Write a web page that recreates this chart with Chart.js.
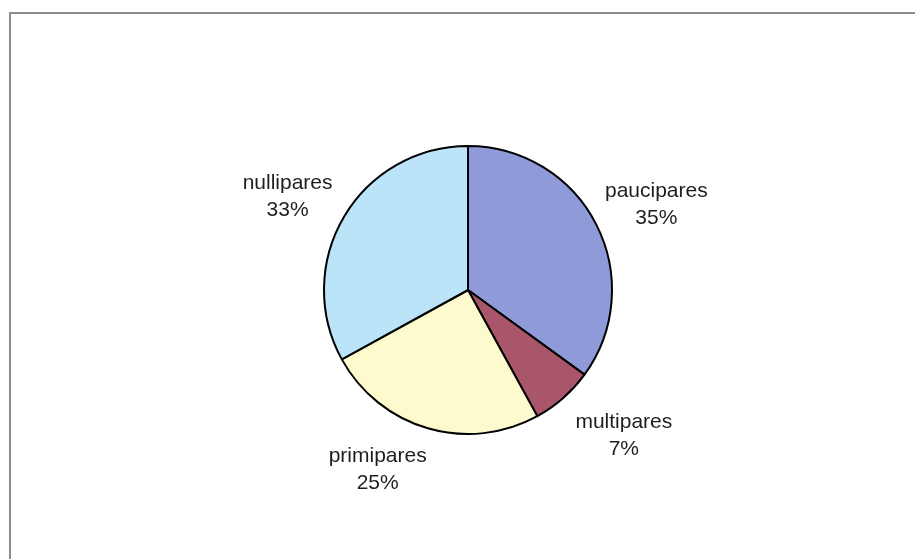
<!DOCTYPE html>
<html>
<head>
<meta charset="utf-8">
<script src="https://cdn.jsdelivr.net/npm/chart.js@4/dist/chart.umd.min.js"></script>
<style>
  html, body { margin: 0; padding: 0; background: #ffffff; }
  #wrap { width: 915px; height: 559px; position: relative; }
</style>
</head>
<body>
<div id="wrap"><canvas id="c" width="915" height="559"></canvas></div>
<script>
const categories = ["paucipares", "multipares", "primipares", "nullipares"];
const values = [35, 7, 25, 33];
const sliceColors = ["#8f9ad8", "#a9566b", "#fdfbcd", "#bbe4f9"];

const framePlugin = {
  id: 'frame',
  beforeDraw(chart) {
    const ctx = chart.ctx;
    ctx.save();
    ctx.fillStyle = '#ffffff';
    ctx.fillRect(0, 0, chart.width, chart.height);
    ctx.strokeStyle = '#8c8c8c';
    ctx.lineWidth = 2;
    ctx.beginPath();
    ctx.moveTo(10, chart.height);
    ctx.lineTo(10, 13);
    ctx.lineTo(chart.width, 13);
    ctx.stroke();
    ctx.restore();
  }
};

const labelPlugin = {
  id: 'outLabels',
  afterDatasetsDraw(chart, args, opts) {
    const ctx = chart.ctx;
    const meta = chart.getDatasetMeta(0);
    const data = chart.data.datasets[0].data;
    const total = data.reduce((a, b) => a + b, 0);
    const nudgeX = opts.nudgeX || [];
    const nudgeY = opts.nudgeY || [];
    ctx.save();
    ctx.font = '21px "Liberation Sans", Arial, sans-serif';
    ctx.fillStyle = '#1e1e1e';
    ctx.textAlign = 'center';
    ctx.textBaseline = 'middle';
    const lineH = 27;
    meta.data.forEach((arc, i) => {
      const mid = (arc.startAngle + arc.endAngle) / 2;
      const dx = Math.cos(mid), dy = Math.sin(mid);
      const name = chart.data.labels[i];
      const pct = Math.round(data[i] / total * 100) + '%';
      const w = Math.max(ctx.measureText(name).width, ctx.measureText(pct).width);
      const h = lineH * 2;
      const d = arc.outerRadius + 16;
      const cx = arc.x + dx * d + dx * w / 2 + (nudgeX[i] || 0);
      const cy = arc.y + dy * d + dy * h / 2 + (nudgeY[i] || 0);
      ctx.fillText(name, cx, cy - lineH / 2);
      ctx.fillText(pct, cx, cy + lineH / 2);
    });
    ctx.restore();
  }
};

new Chart(document.getElementById('c'), {
  type: 'pie',
  data: {
    labels: categories,
    datasets: [{
      data: values,
      backgroundColor: sliceColors,
      borderColor: '#000000',
      borderWidth: 2
    }]
  },
  options: {
    responsive: false,
    animation: false,
    events: [],
    layout: { padding: { top: 145, bottom: 124, left: 323, right: 302 } },
    plugins: {
      legend: { display: false },
      tooltip: { enabled: false },
      outLabels: { nudgeX: [0, 18, -32, -4], nudgeY: [0, 5, 0, 2] }
    }
  },
  plugins: [framePlugin, labelPlugin]
});
</script>
</body>
</html>
